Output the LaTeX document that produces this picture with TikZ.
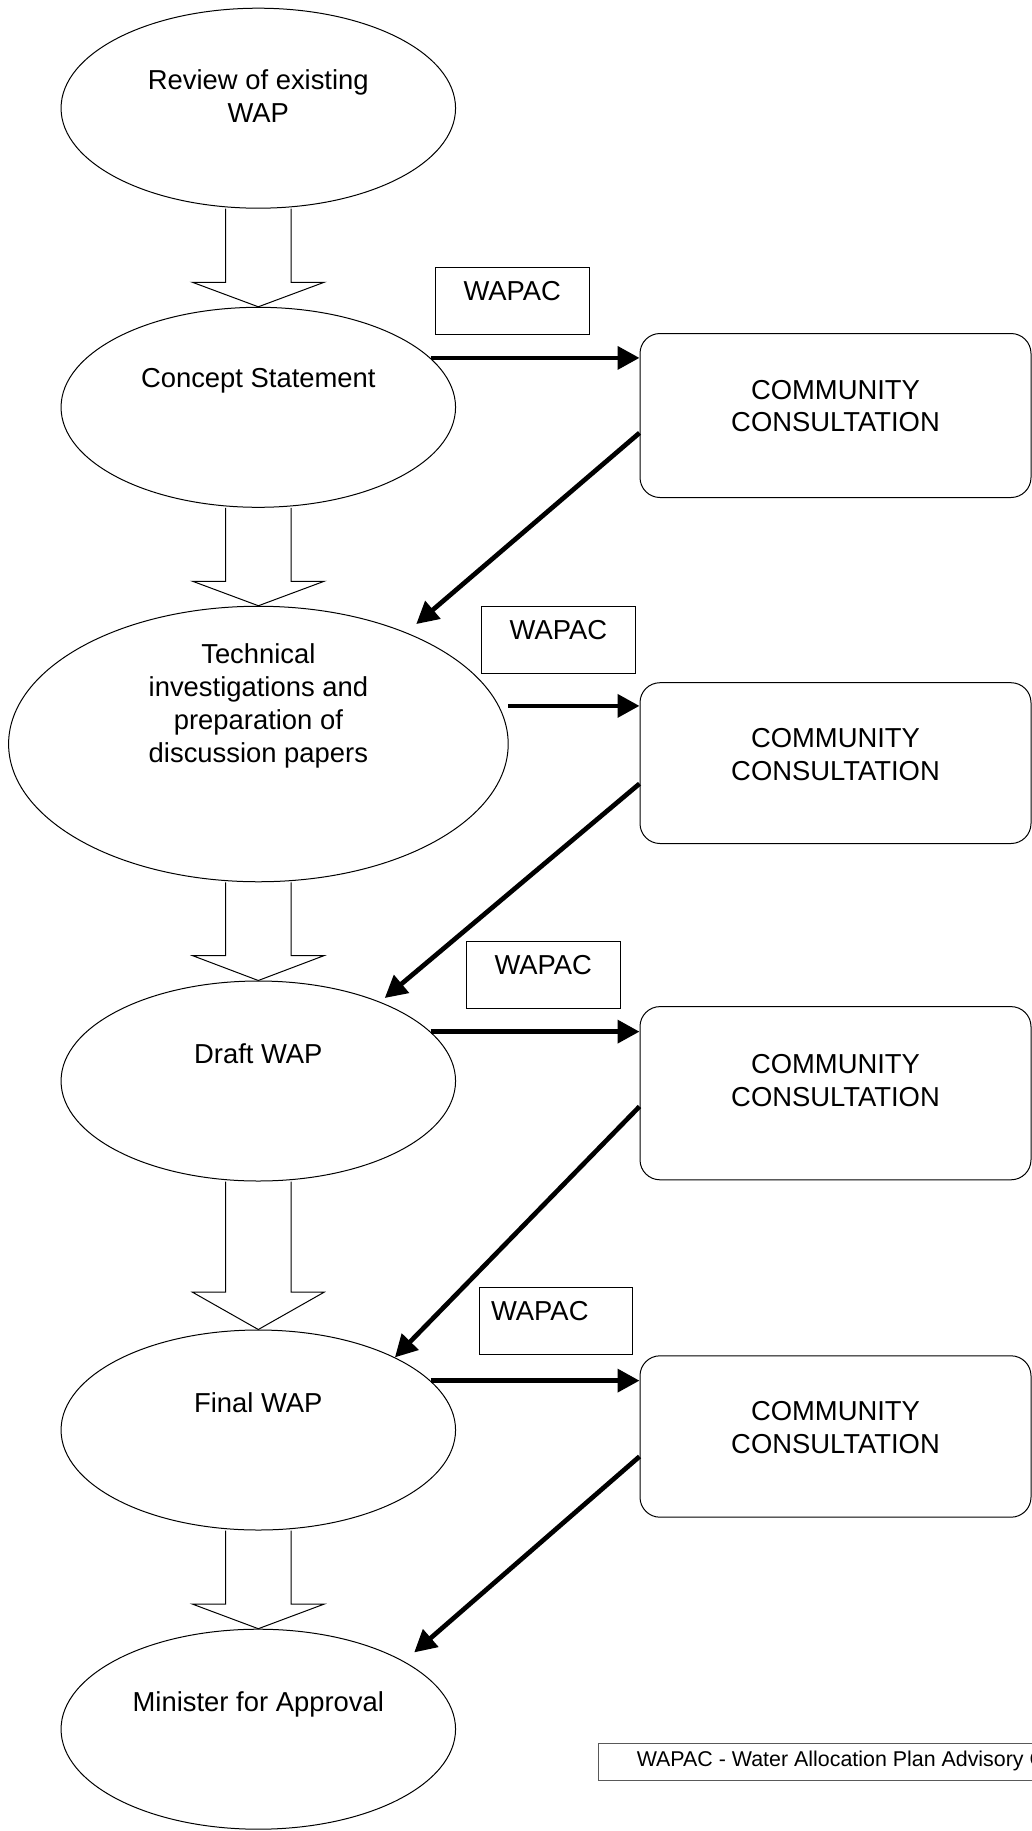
\documentclass[tikz,border=0pt]{standalone}
\usepackage{fontspec}
\setmainfont{Liberation Sans}
\usepackage{tikz}
\usetikzlibrary{
  positioning,
  calc,
  arrows.meta,
  shapes.geometric
}

\begin{document}
\begin{tikzpicture}[x=0.5pt, y=-0.5pt,
    stage/.style={draw, ellipse, line width=0.5pt, inner sep=0pt, minimum width=197.25pt, minimum height=100pt},
    stagetext/.style={align=center, inner sep=0pt, font=\fontsize{13.7pt}{16.4pt}\selectfont},
    consult/.style={draw, rounded corners=10pt, line width=0.5pt, anchor=north, align=center, inner sep=0pt,
      minimum width=195.5pt, text height=48.9pt, text depth=31.5pt, font=\fontsize{13.7pt}{16.4pt}\selectfont},
    wapac/.style={draw, line width=0.5pt, anchor=north west, inner sep=0pt, minimum width=76.75pt,
      text height=16.5pt, text depth=17pt, font=\fontsize{13.7pt}{16.4pt}\selectfont},
    flow/.style={line width=2.35pt, -{Triangle[length=11pt, width=11.35pt]}},
    hollow/.style={line width=0.5pt}
  ]
      \useasboundingbox (0,0) rectangle (1032,1831);

      % Stages of the plan
      \node[stage] (review) at (258.3,108.2) {};
      \node[stage] (concept) at (258.3,407.3) {};
      \node[stage, minimum width=249.8pt, minimum height=137.75pt] (tech) at (258.4,744) {};
      \node[stage] (draft) at (258.3,1081) {};
      \node[stage] (final) at (258.3,1430) {};
      \node[stage] (minister) at (258.3,1729.2) {};

      \node[stagetext, below=30.75pt of review.north] (review-txt) {Review of existing\\WAP};
      \node[stagetext, below=30.75pt of concept.north] (concept-txt) {Concept Statement};
      \node[stagetext, below=18.95pt of tech.north] (tech-txt) {Technical\\investigations and\\preparation of\\discussion papers};
      \node[stagetext, below=31.2pt of draft.north] (draft-txt) {Draft WAP};
      \node[stagetext, below=31.2pt of final.north] (final-txt) {Final WAP};
      \node[stagetext, below=31.2pt of minister.north] (minister-txt) {Minister for Approval};

      % Hollow arrows between stages
      \foreach \a/\b/\h in {review/concept/12.25pt, concept/tech/12.25pt, tech/draft/12.45pt, draft/final/18.65pt, final/minister/12.3pt} {
        \draw[hollow] ($(\a.south)+(-16.375pt,0pt)$) -- ($(\b.north)+(-16.375pt,\h)$)
          -- ($(\b.north)+(-32.9pt,\h)$) -- (\b.north) -- ($(\b.north)+(32.9pt,\h)$)
          -- ($(\b.north)+(16.375pt,\h)$) -- ($(\a.south)+(16.375pt,0pt)$);
      }

      % Community consultation
      \node[consult, text height=49.15pt, text depth=32.85pt] (cc1) at (835.5,333) {COMMUNITY\\CONSULTATION};
      \node[consult] (cc2) at (835.5,682.2) {COMMUNITY\\CONSULTATION};
      \node[consult, text height=49.8pt, text depth=36.8pt] (cc3) at (835.5,1006.1) {COMMUNITY\\CONSULTATION};
      \node[consult, text depth=31.8pt] (cc4) at (835.5,1355.3) {COMMUNITY\\CONSULTATION};

      % WAPAC boxes
      \node[wapac] (wapac1) at (435,266.5) {WAPAC};
      \node[wapac] (wapac2) at (481.2,605.9) {WAPAC};
      \node[wapac] (wapac3) at (466,940.8) {WAPAC};
      \node[wapac, text width=64.75pt, inner xsep=6pt, align=left] (wapac4) at (478.6,1287.2) {WAPAC};

      % Out to consultation
      \draw[flow] (concept.16) -- (concept.16 -| cc1.west);
      \draw[flow] ([xshift=4.6pt]tech.9) -- (tech.9 -| cc2.west);
      \draw[flow] (draft.16) -- (draft.16 -| cc3.west);
      \draw[flow] (final.16) -- (final.16 -| cc4.west);

      % Back to the next stage
      \draw[flow, shorten >=6.5pt] ([yshift=-8.7pt]cc1.west) -- (tech.37);
      \draw[flow, shorten >=3pt] ([yshift=-10.3pt]cc2.west) -- (draft.33);
      \draw[flow] ([yshift=-6.65pt]cc3.west) -- (final.28);
      \draw[flow, shorten >=6.75pt] ([yshift=-10pt]cc4.west) -- (minister.25);

      % Legend
      \node[draw=black!65, line width=0.5pt, anchor=north west, inner xsep=19pt, inner ysep=0pt,
        text height=11.35pt, text depth=7pt, font=\fontsize{10.7pt}{13pt}\selectfont]
        (legend) at (598.3,1743.3) {WAPAC - Water Allocation Plan Advisory Committee};
    \end{tikzpicture}
\end{document}
